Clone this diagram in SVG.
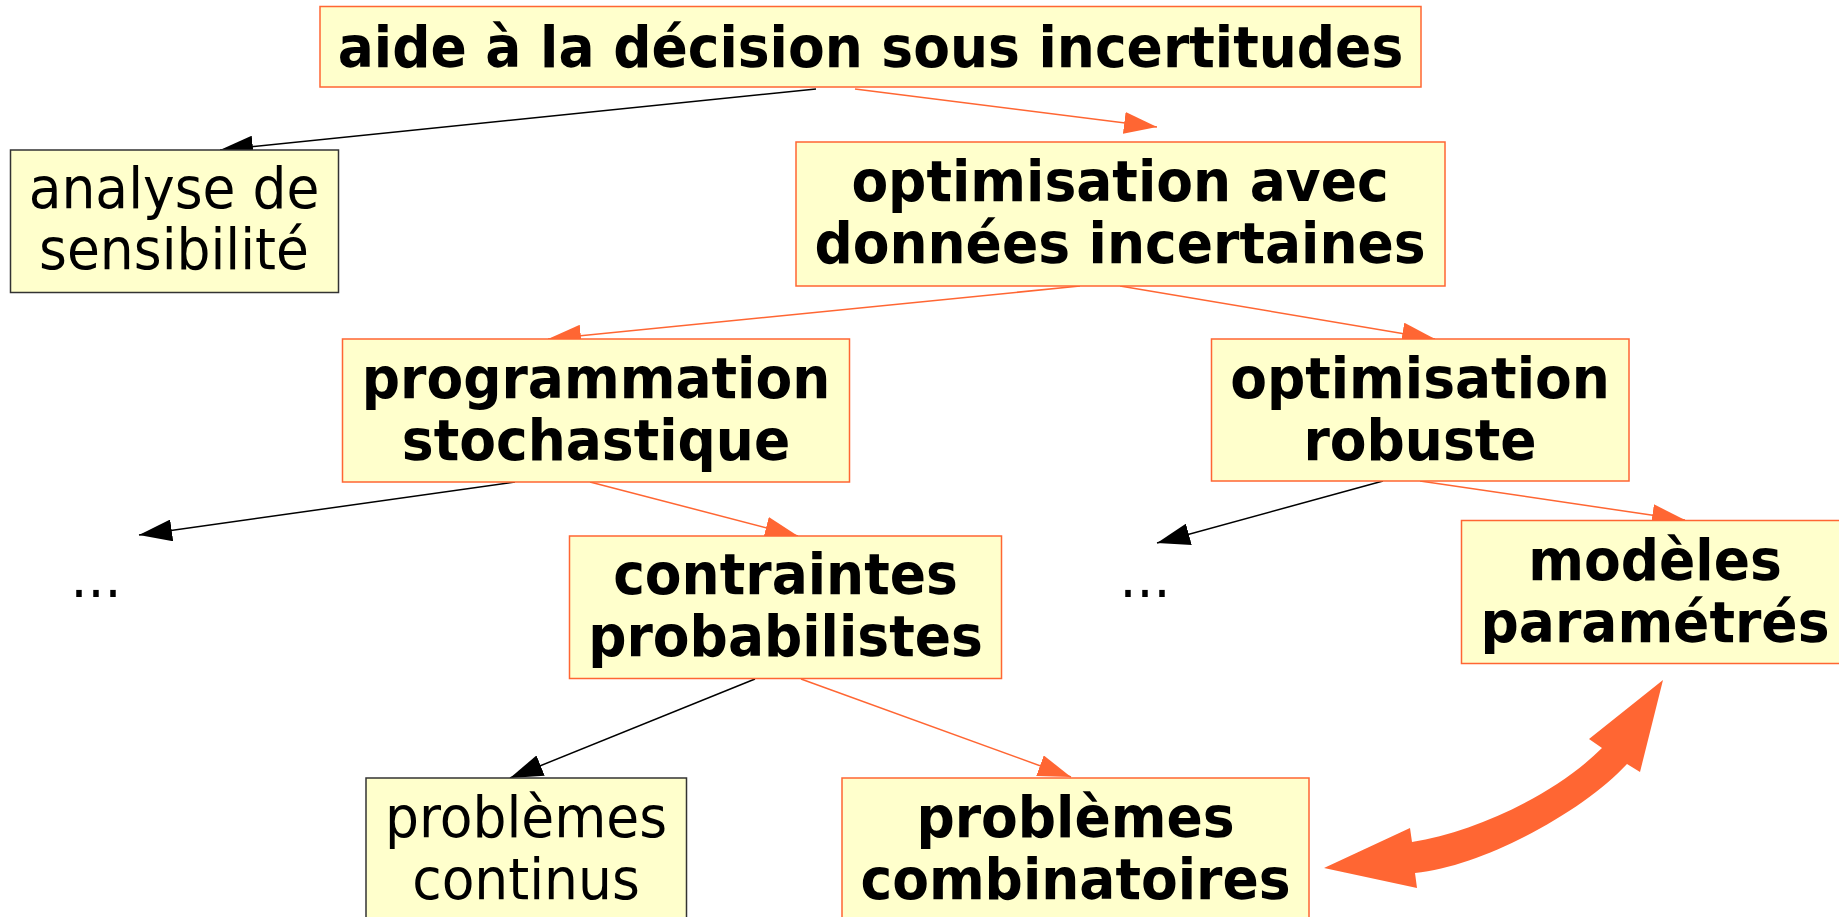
<svg xmlns="http://www.w3.org/2000/svg" width="1839" height="917" viewBox="0 0 1839 917">
<defs>
<style>
.box{fill:#ffffcc;stroke:#ff6633;stroke-width:1.5}
.boxk{fill:#ffffcc;stroke:#333333;stroke-width:1.5}
.t{font-family:"DejaVu Sans","Liberation Sans",sans-serif;font-size:53.5px;fill:#000;text-anchor:middle}
.b{font-weight:bold}
.ck{stroke:#000;stroke-width:1.5;fill:none}
.co{stroke:#ff6633;stroke-width:1.5;fill:none}
</style>
<marker id="ak" markerUnits="userSpaceOnUse" viewBox="0 0 33 22" refX="33" refY="11" markerWidth="33" markerHeight="22" orient="auto"><path d="M0,0 L33,11 L0,22 z" fill="#000"/></marker>
<marker id="ao" markerUnits="userSpaceOnUse" viewBox="0 0 33 22" refX="33" refY="11" markerWidth="33" markerHeight="22" orient="auto"><path d="M0,0 L33,11 L0,22 z" fill="#ff6633"/></marker>
</defs>
<rect width="1839" height="917" fill="#fff"/>
<g id="connectors">
<line class="ck" x1="816" y1="89" x2="220" y2="150" marker-end="url(#ak)"/>
<line class="co" x1="855" y1="89" x2="1157" y2="127" marker-end="url(#ao)"/>
<line class="co" x1="1080" y1="286" x2="548" y2="339" marker-end="url(#ao)"/>
<line class="co" x1="1120" y1="286" x2="1435" y2="339" marker-end="url(#ao)"/>
<line class="ck" x1="515" y1="482" x2="139" y2="535" marker-end="url(#ak)"/>
<line class="co" x1="590" y1="482" x2="798" y2="536" marker-end="url(#ao)"/>
<line class="ck" x1="1383" y1="481" x2="1157" y2="543" marker-end="url(#ak)"/>
<line class="co" x1="1420" y1="481" x2="1685" y2="520" marker-end="url(#ao)"/>
<line class="ck" x1="755" y1="679" x2="510" y2="778" marker-end="url(#ak)"/>
<line class="co" x1="801" y1="679" x2="1071" y2="777" marker-end="url(#ao)"/>
<path id="double-arrow" fill="#ff6633" d="M1324,868 L1410,828 L1412,842 C1475,832 1555,795 1602,748 L1589,739 L1663,680 L1640,772 L1627,764 C1585,810 1485,866 1415,873 L1417,888 Z"/>
</g>
<g id="n-aide">
<rect class="box" x="320" y="6.5" width="1101" height="80.5"/>
<text class="t b" transform="translate(870.5,67) scale(1,1.05)">aide à la décision sous incertitudes</text>
</g>
<g id="n-analyse">
<rect class="boxk" x="10.5" y="150" width="328" height="142.5"/>
<text class="t" transform="translate(174,208) scale(1,1.05)"><tspan x="0" y="0">analyse de</tspan><tspan x="0" y="58">sensibilité</tspan></text>
</g>
<g id="n-optimisation-avec">
<rect class="box" x="796" y="142" width="649" height="144"/>
<text class="t b" transform="translate(1120,201) scale(1,1.05)"><tspan x="0" y="0">optimisation avec</tspan><tspan x="0" y="59">données incertaines</tspan></text>
</g>
<g id="n-programmation">
<rect class="box" x="342.5" y="339" width="507" height="143"/>
<text class="t b" transform="translate(596,398) scale(1,1.05)"><tspan x="0" y="0">programmation</tspan><tspan x="0" y="59">stochastique</tspan></text>
</g>
<g id="n-robuste">
<rect class="box" x="1211.5" y="339" width="417.5" height="142"/>
<text class="t b" transform="translate(1420,398) scale(1,1.05)"><tspan x="0" y="0">optimisation</tspan><tspan x="0" y="59">robuste</tspan></text>
</g>
<g id="n-dots-left">
<text class="t" transform="translate(96,596.5) scale(1,1.05)">...</text>
</g>
<g id="n-dots-right">
<text class="t" transform="translate(1145,596.5) scale(1,1.05)">...</text>
</g>
<g id="n-contraintes">
<rect class="box" x="569.5" y="536" width="432" height="142.5"/>
<text class="t b" transform="translate(785.5,594) scale(1,1.05)"><tspan x="0" y="0">contraintes</tspan><tspan x="0" y="59">probabilistes</tspan></text>
</g>
<g id="n-modeles">
<rect class="box" x="1461.5" y="520.5" width="390" height="143"/>
<text class="t b" transform="translate(1655,580) scale(1,1.05)"><tspan x="0" y="0">modèles</tspan><tspan x="0" y="59">paramétrés</tspan></text>
</g>
<g id="n-continus">
<rect class="boxk" x="366" y="778" width="320.5" height="160"/>
<text class="t" transform="translate(526,837) scale(1,1.05)"><tspan x="0" y="0">problèmes</tspan><tspan x="0" y="59">continus</tspan></text>
</g>
<g id="n-combinatoires">
<rect class="box" x="842" y="778" width="467" height="160"/>
<text class="t b" transform="translate(1075.5,837) scale(1,1.05)"><tspan x="0" y="0">problèmes</tspan><tspan x="0" y="59">combinatoires</tspan></text>
</g>
</svg>
